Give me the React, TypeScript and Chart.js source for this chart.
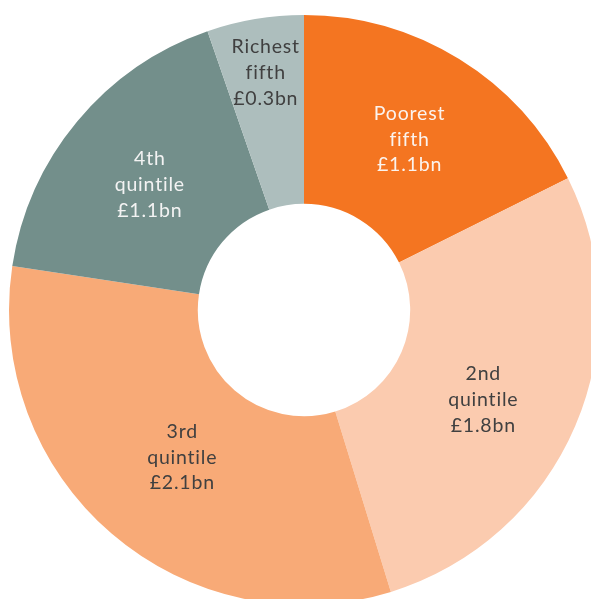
import React, { useEffect, useRef } from "react";
import { Chart, registerables } from "chart.js";

Chart.register(...registerables);

const categories = ["Poorest fifth", "2nd quintile", "3rd quintile", "4th quintile", "Richest fifth"];
const labelLines = [
  ["Poorest", "fifth"],
  ["2nd", "quintile"],
  ["3rd", "quintile"],
  ["4th", "quintile"],
  ["Richest", "fifth"],
];
const valuesBn = [1.13, 1.77, 2.06, 1.11, 0.34];
const colors = ["#F47521", "#FBCBAF", "#F8AA77", "#738F8B", "#ADBEBD"];
const textColors = ["#FBF3EE", "#404040", "#404040", "#F3F3F3", "#404040"];
const labelRadialFraction = [0.5, 0.5, 0.45, 0.49, 0.71];
const labelAngularFraction = [0.5, 0.535, 0.49, 0.49, 0.52];

const labelPlugin = {
  id: "sliceLabels",
  afterDatasetsDraw(chart: any) {
    const ctx = chart.ctx;
    const meta = chart.getDatasetMeta(0);
    ctx.save();
    ctx.font = "19.5px Lato, 'Open Sans', sans-serif";
    try {
      (ctx as any).letterSpacing = "0.8px";
    } catch (e) {}
    ctx.textAlign = "center";
    ctx.textBaseline = "middle";
    meta.data.forEach((arc: any, i: number) => {
      const { x, y, startAngle, endAngle, innerRadius, outerRadius } = arc.getProps(
        ["x", "y", "startAngle", "endAngle", "innerRadius", "outerRadius"],
        true
      );
      const ang = startAngle + labelAngularFraction[i] * (endAngle - startAngle);
      const r = innerRadius + labelRadialFraction[i] * (outerRadius - innerRadius);
      const cx = x + Math.cos(ang) * r;
      const cy = y + Math.sin(ang) * r;
      const lines = [...labelLines[i], "£" + valuesBn[i].toFixed(1) + "bn"];
      const lh = 25.8;
      ctx.fillStyle = textColors[i];
      lines.forEach((t, k) => {
        ctx.fillText(t, cx, cy + (k - (lines.length - 1) / 2) * lh);
      });
    });
    ctx.restore();
  },
};

export default function App() {
  const ref = useRef<HTMLCanvasElement>(null);
  useEffect(() => {
    if (!ref.current) return;
    const chart = new Chart(ref.current, {
      type: "doughnut",
      data: {
        labels: categories,
        datasets: [
          {
            data: valuesBn,
            backgroundColor: colors,
            borderWidth: 0,
          },
        ],
      },
      options: {
        responsive: false,
        animation: false,
        cutout: "36%",
        layout: { padding: { left: 9, right: 9, top: 15, bottom: 15 } },
        plugins: {
          legend: { display: false },
          tooltip: { enabled: false },
        },
      },
      plugins: [labelPlugin],
    });
    return () => chart.destroy();
  }, []);
  return (
    <div
      style={{
        position: "fixed",
        left: 0,
        top: 0,
        width: 591,
        height: 599,
        overflow: "hidden",
        background: "#fff",
      }}
    >
      <canvas
        ref={ref}
        width={608}
        height={620}
        style={{ position: "absolute", left: 0, top: 0, width: 608, height: 620 }}
      />
    </div>
  );
}
